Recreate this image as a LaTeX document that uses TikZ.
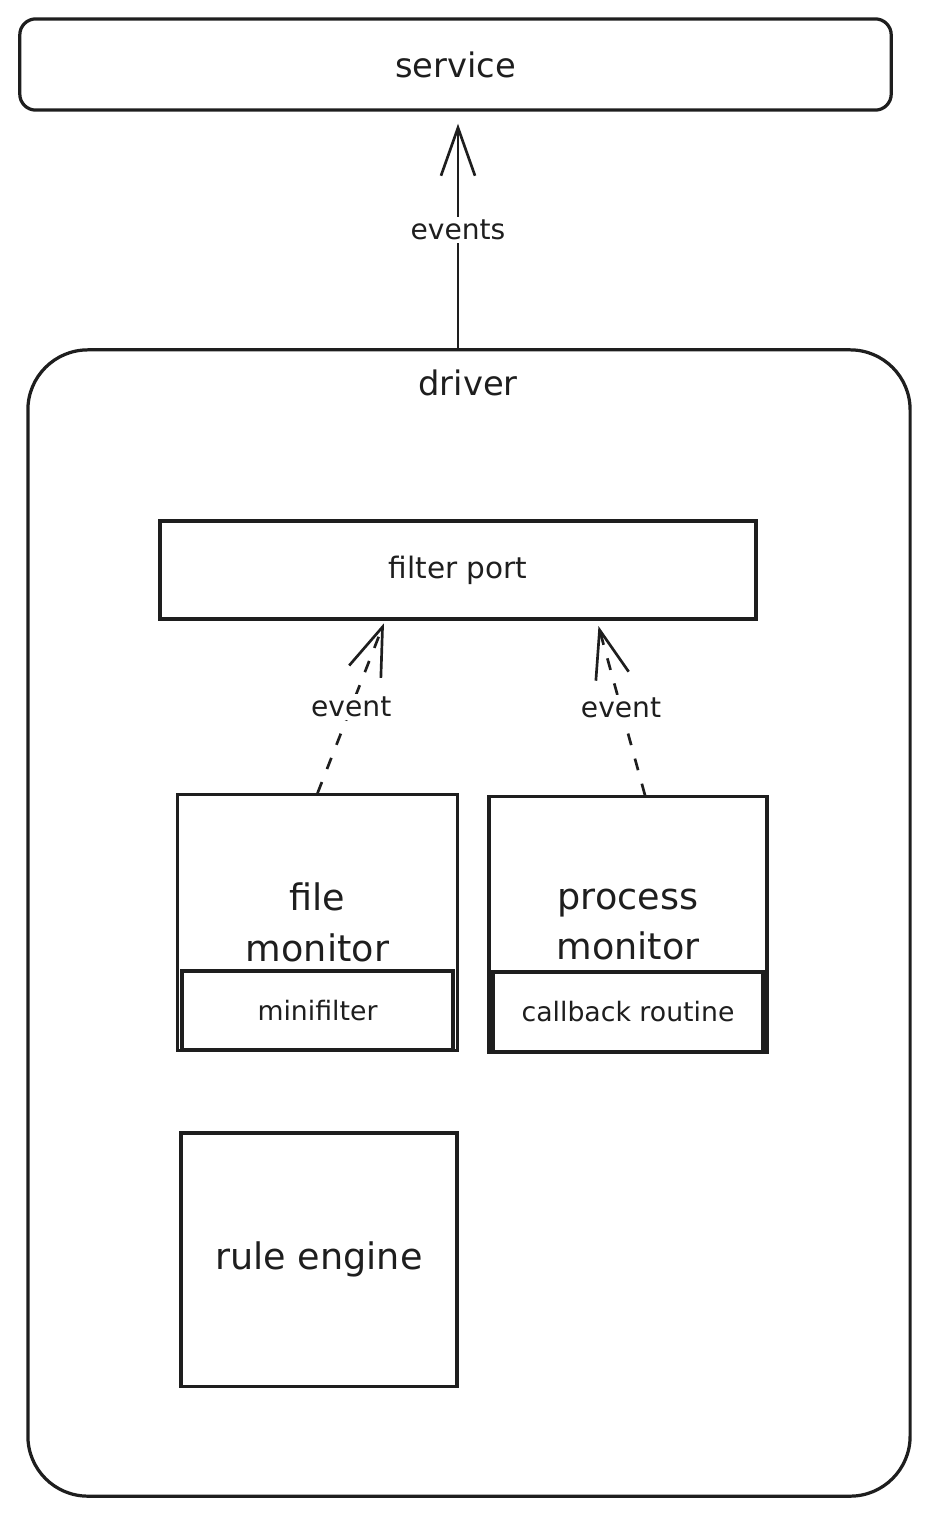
\documentclass[tikz,border=0pt]{standalone}
\usepackage{fontspec}
\setmainfont{DejaVu Sans}
\usetikzlibrary{arrows.meta, positioning, calc}
\definecolor{ink}{HTML}{1E1E1E}
\tikzstyle{outer} = [rectangle, rounded corners=0.4cm, draw=ink, line width=2.3pt, minimum width=21.78cm, minimum height=2.28cm, text centered, text=ink, font=\fontsize{24}{28}\selectfont]
\tikzstyle{container} = [rectangle, rounded corners=1.5cm, draw=ink, line width=2.3pt, minimum width=22.05cm, minimum height=28.65cm]
\tikzstyle{process} = [rectangle, draw=ink, line width=2.3pt, minimum width=14.9cm, minimum height=2.45cm, text centered, text=ink, font=\fontsize{21}{25}\selectfont]
\tikzstyle{module} = [rectangle, draw=ink, line width=2.3pt, minimum width=6.95cm, minimum height=6.38cm, align=center, text=ink, font=\fontsize{26}{36}\selectfont]
\tikzstyle{component} = [rectangle, draw=ink, line width=3pt, minimum height=1.97cm, text centered, text=ink, font=\fontsize{19}{23}\selectfont]
\tikzstyle{title} = [text=ink, font=\fontsize{24}{28}\selectfont]
\tikzstyle{flow} = [line width=1.9pt, draw=ink, -{Straight Barb[length=1.2cm, width=0.85cm]}]
\tikzstyle{signal} = [flow, dash pattern=on 0.3cm off 0.35cm]
\tikzstyle{tag} = [fill=white, text=ink, font=\fontsize{20}{24}\selectfont, inner sep=2pt]

\begin{document}
\begin{tikzpicture}[x=0.025cm, y=-0.025cm]
        \useasboundingbox (0,0) rectangle (929,1514);

        % Nodes
        \node (service) [outer] at (455.5,64.5) {service};
        \node (driver) [container] at (469,923) {};
        \node (drivertitle) [title] at (468,383) {driver};
        \node (filterport) [process] at (458,570) {filter port};
        \node (filemon) [module, minimum width=6.98cm] at (317.5,922.5) {file\\monitor};
        \node (procmon) [module] at (628,924.5) {process\\monitor};
        \node (ruleengine) [module, minimum width=6.9cm, minimum height=6.33cm] at (319,1259.5) {rule engine};

        % Sub-components
        \node (minifilter) [component, minimum width=6.78cm, above=0pt of filemon.south] {minifilter};
        \node (callback) [component, minimum width=6.73cm, minimum height=2.0cm, above=0pt of procmon.south] {callback routine};

        % Arrows
        \draw [flow, shorten >=0.3cm] (driver.north -| filterport.north) -- node[tag] {events} (service.south -| filterport.north);
        \draw [signal, shorten >=2pt] (filemon.north) -- node[tag] {event} ($(filterport.south)+(-73,0)$);
        \draw [signal, shorten >=4pt] ($(procmon.north)+(17,0)$) -- node[tag] {event} ($(filterport.south)+(139,0)$);
    \end{tikzpicture}
\end{document}
